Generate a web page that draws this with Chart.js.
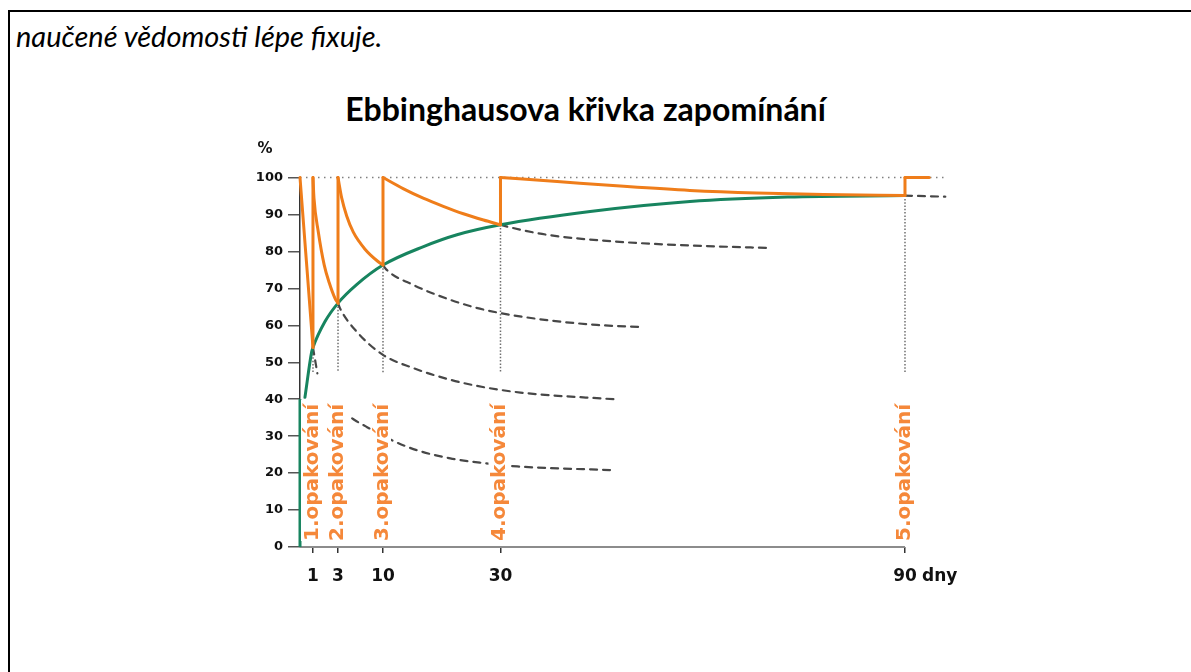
<!DOCTYPE html>
<html lang="cs">
<head>
<meta charset="utf-8">
<title>Ebbinghausova křivka zapomínání</title>
<script src="https://cdn.jsdelivr.net/npm/chart.js@4.4.1/dist/chart.umd.min.js"></script>
<style>
  html, body { margin: 0; padding: 0; background: #fff; }
  body { width: 1191px; height: 672px; position: relative; overflow: hidden; }
  #frame { position: absolute; left: 8px; top: 10px; right: -5px; bottom: -5px;
           border-top: 2.5px solid #000; border-left: 2.5px solid #000; }
  #intro { position: absolute; left: 16px; top: 18px; line-height: 1;
           font: italic 29px Lato, sans-serif; color: #000; }
  #title { position: absolute; left: 0; width: 1171px; top: 89px; line-height: 1;
           text-align: center; font: bold 32px Lato, sans-serif; color: #000; }
  canvas { position: absolute; left: 0; top: 0; }
</style>
</head>
<body>
<div id="frame"></div>
<div id="intro">naučené vědomosti lépe fixuje.</div>
<div id="title">Ebbinghausova křivka zapomínání</div>
<canvas id="chart" width="1191" height="672"></canvas>
<script>
// values: [day, %]
const dayTicks = [1, 3, 10, 30, 90];
const repLabels = ['1.opakování', '2.opakování', '3.opakování', '4.opakování', '5.opakování'];
const repDays = [1, 3, 10, 30, 90];
const repMins = [54, 66, 76.3, 87.2, 95.1];
const guideBottom = 47.3;

// the x axis is stretched for the first days, linear from day 30 on
const axisDays = [0, 1, 3, 10, 30, 90, 97];
const axisShare = [0, 0.0199, 0.0583, 0.1273, 0.3075, 0.9279, 1];

const decay0 = [[0, 100], [0.5, 77], [1, 54]];
const decay1 = [[1, 100], [1.08, 94.4], [1.42, 85.4], [1.9, 76.3], [2.3, 71.5], [2.76, 67.3], [3, 66]];
const decay2 = [[3, 100], [3.58, 94.4], [4.35, 89.6], [5.38, 85.2], [7.2, 80.6], [9.27, 77.2], [10, 76.3]];
const decay3 = [[10, 100], [13.42, 97], [16.84, 94.4], [20.26, 92.2], [23.68, 90.2], [27.1, 88.5], [30, 87.2]];
const decay4 = [[30, 100], [38.4, 98.9], [48.3, 97.6], [58.1, 96.5], [68, 95.8], [77.9, 95.4], [90, 95.1]];
const after5 = [[90, 100], [93.6, 100]];

const greenBase = [[0, 0], [0, 40]];
const greenCurve = [[0.38, 40.5], [0.9, 52.8], [1, 54], [1.96, 61], [3, 66], [5.9, 71], [10, 76.3],
  [16.9, 81.3], [22.6, 84.5], [30, 87.2], [43.3, 90.8], [58.1, 93.5], [72.6, 94.7], [90, 95.1]];

const forgetA1 = [[1, 54], [1.35, 47]];
const forgetA2 = [[5.2, 34.8], [5.64, 34.3], [7.46, 32.5], [11.76, 28.7], [15.76, 26.2], [21.45, 24],
  [26.6, 22.8], [32.5, 21.8], [46.6, 20.8]];
const forgetB = [[3, 66], [3.31, 64.6], [5.9, 58.3], [10, 52], [15.2, 48.4], [20.9, 45.5], [26, 43.6],
  [32.96, 41.8], [47.5, 39.9]];
const forgetC = [[10, 76.3], [10.63, 75], [15.2, 70.9], [20.9, 67.2], [25.5, 64.9], [30, 63.3], [36.9, 61.4],
  [44.3, 60.1], [51.2, 59.5]];
const forgetD = [[30, 87.2], [31, 86.7], [36.9, 84.5], [46.8, 82.7], [56.7, 81.7], [70, 80.9]];
const forgetE = [[90, 95.1], [96, 94.8]];
const topLine = [[0, 100], [96.4, 100]];

const ORANGE = '#ef7d1a';
const LABEL_ORANGE = '#f5883a';
const GREEN = '#17845f';

class DayScale extends Chart.LinearScale {
  static id = 'dayscale';
  getPixelForValue(value) {
    if (value === null || value === undefined) return NaN;
    let i = 1;
    while (i < axisDays.length - 1 && value > axisDays[i]) i++;
    const t = (value - axisDays[i - 1]) / (axisDays[i] - axisDays[i - 1]);
    return this.getPixelForDecimal(axisShare[i - 1] + t * (axisShare[i] - axisShare[i - 1]));
  }
  getValueForPixel(pixel) {
    const d = this.getDecimalForPixel(pixel);
    let i = 1;
    while (i < axisShare.length - 1 && d > axisShare[i]) i++;
    const t = (d - axisShare[i - 1]) / (axisShare[i] - axisShare[i - 1]);
    return axisDays[i - 1] + t * (axisDays[i] - axisDays[i - 1]);
  }
}
Chart.register(DayScale);

function pts(list) {
  return list.map(p => ({ x: p[0], y: p[1] }));
}

function curve(list, color, width, extra) {
  return Object.assign({
    data: pts(list),
    borderColor: color,
    borderWidth: width,
    cubicInterpolationMode: 'monotone',
    borderCapStyle: 'round',
    borderJoinStyle: 'round'
  }, extra || {});
}

// vertical jumps of the orange line and dotted guides
const jumps = [];
const guides = [];
repDays.forEach((d, i) => {
  jumps.push({ x: d, y: repMins[i] }, { x: d, y: 100 }, { x: d, y: null });
  guides.push({ x: d, y: repMins[i] }, { x: d, y: guideBottom }, { x: d, y: null });
});

const dashed = { borderDash: [7, 6], order: 4 };

const datasets = [
  curve(topLine, '#808080', 1.5, { borderDash: [1.5, 4.5], borderCapStyle: 'butt', order: 5 }),
  { data: guides, borderColor: '#6e6e6e', borderWidth: 1.5, borderDash: [1.5, 1.8], spanGaps: false, order: 5 },
  curve(forgetA1, '#474747', 2.2, dashed),
  curve(forgetA2, '#474747', 2.2, dashed),
  curve(forgetB, '#474747', 2.2, dashed),
  curve(forgetC, '#474747', 2.2, dashed),
  curve(forgetD, '#474747', 2.2, dashed),
  curve(forgetE, '#474747', 2.2, dashed),
  curve(greenBase, GREEN, 3, { order: 3, borderCapStyle: 'butt' }),
  curve(greenCurve, GREEN, 3, { order: 3 }),
  curve(decay0, ORANGE, 3, { order: 1 }),
  curve(decay1, ORANGE, 3, { order: 1 }),
  curve(decay2, ORANGE, 3, { order: 1 }),
  curve(decay3, ORANGE, 3, { order: 1 }),
  curve(decay4, ORANGE, 3, { order: 1 }),
  curve(after5, ORANGE, 3, { order: 1 }),
  { data: jumps, borderColor: ORANGE, borderWidth: 3, spanGaps: false, order: 1, borderCapStyle: 'round' }
];

const extras = {
  id: 'extras',
  beforeDatasetsDraw(chart) {
    const { ctx, scales: { x, y } } = chart;
    ctx.save();
    ctx.strokeStyle = '#8c8c8c';
    ctx.lineWidth = 2;
    ctx.beginPath();
    ctx.moveTo(x.getPixelForValue(0), y.getPixelForValue(0));
    ctx.lineTo(x.getPixelForValue(90), y.getPixelForValue(0));
    ctx.stroke();
    ctx.restore();
  },
  afterDatasetsDraw(chart) {
    const { ctx, scales: { x, y } } = chart;
    ctx.save();
    // rotated labels of the repetitions
    ctx.font = 'bold 20px "DejaVu Sans"';
    const bottom = y.getPixelForValue(0) - 6;
    repLabels.forEach((label, i) => {
      const base = x.getPixelForValue(repDays[i]) + 5;
      const w = ctx.measureText(label).width;
      ctx.fillStyle = '#fff';
      ctx.fillRect(base - 17, bottom - w - 4, 20, w + 4);
      ctx.save();
      ctx.translate(base, bottom);
      ctx.rotate(-Math.PI / 2);
      ctx.fillStyle = LABEL_ORANGE;
      ctx.textAlign = 'left';
      ctx.textBaseline = 'alphabetic';
      ctx.fillText(label, 0, 0);
      ctx.restore();
    });
    // unit labels
    ctx.fillStyle = '#111';
    ctx.textBaseline = 'middle';
    ctx.font = 'bold 15px "DejaVu Sans"';
    ctx.textAlign = 'center';
    ctx.fillText('%', chart.chartArea.left - 35, y.getPixelForValue(100) - 28);
    ctx.font = 'bold 17px "DejaVu Sans"';
    ctx.textAlign = 'left';
    ctx.fillText('dny', x.getPixelForValue(90) + 17, y.getPixelForValue(0) + 30);
    ctx.restore();
  }
};

Chart.defaults.font.family = '"DejaVu Sans"';

new Chart(document.getElementById('chart'), {
  type: 'line',
  data: { datasets: datasets },
  options: {
    responsive: false,
    animation: false,
    layout: { padding: { left: 240, right: 239, top: 177.5, bottom: 85 } },
    elements: { point: { radius: 0 }, line: { tension: 0, fill: false } },
    datasets: { line: { clip: false } },
    plugins: { legend: { display: false }, tooltip: { enabled: false }, title: { display: false } },
    scales: {
      x: {
        type: 'dayscale',
        min: 0,
        max: 97,
        afterBuildTicks: scale => { scale.ticks = dayTicks.map(v => ({ value: v })); },
        afterFit: scale => { scale.height = 40; },
        ticks: {
          autoSkip: false,
          maxRotation: 0,
          padding: 13,
          color: '#111',
          font: { size: 17, weight: 'bold' },
          callback: v => String(v)
        },
        grid: { drawOnChartArea: false, tickLength: 6, color: '#333', lineWidth: 1.5 },
        border: { display: false }
      },
      y: {
        min: 0,
        max: 100,
        afterFit: scale => { scale.width = 60; },
        ticks: { stepSize: 10, padding: 5, color: '#111', font: { size: 13, weight: 'bold' } },
        grid: { drawOnChartArea: false, tickLength: 12, color: '#555', lineWidth: 1.5 },
        border: { color: '#333', width: 1.5 }
      }
    }
  },
  plugins: [extras]
});
</script>
</body>
</html>
